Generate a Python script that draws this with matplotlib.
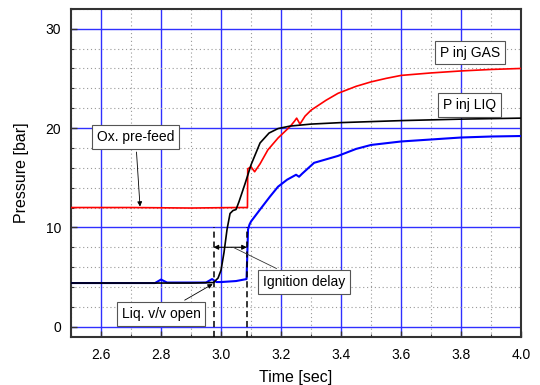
import matplotlib
matplotlib.use("Agg")
import matplotlib.pyplot as plt
from matplotlib.ticker import MultipleLocator

plt.rcParams["font.family"] = ["Liberation Sans", "DejaVu Sans"]

# P inj GAS (red)
t_gas = [2.5, 2.7, 2.9, 3.05, 3.088, 3.089, 3.10, 3.112, 3.13, 3.156, 3.19, 3.23,
         3.245, 3.252, 3.263, 3.28, 3.30, 3.35, 3.39, 3.45, 3.5, 3.55, 3.6, 3.7,
         3.8, 3.9, 4.0]
p_gas = [12.0, 12.0, 11.95, 12.0, 12.0, 15.9, 16.1, 15.6, 16.4, 17.8, 19.0, 20.15,
         20.7, 21.0, 20.4, 21.2, 21.8, 22.8, 23.5, 24.2, 24.65, 25.0, 25.3, 25.55,
         25.75, 25.9, 26.0]

# P inj LIQ (black)
t_liq = [2.5, 2.9, 2.975, 2.99, 3.0, 3.01, 3.02, 3.03, 3.04, 3.05, 3.06, 3.08,
         3.10, 3.13, 3.16, 3.19, 3.23, 3.3, 3.4, 3.6, 3.8, 4.0]
p_liq = [4.4, 4.4, 4.45, 4.9, 5.7, 7.5, 9.8, 11.4, 11.7, 11.8, 12.6, 14.4,
         16.3, 18.5, 19.5, 19.95, 20.2, 20.4, 20.55, 20.75, 20.9, 21.0]

# chamber-side pressure (blue)
t_ch = [2.5, 2.78, 2.8, 2.82, 2.95, 2.97, 2.985, 3.0, 3.05, 3.085, 3.09, 3.095,
        3.10, 3.13, 3.163, 3.19, 3.22, 3.25, 3.26, 3.27, 3.31, 3.39, 3.45, 3.5,
        3.6, 3.7, 3.8, 3.9, 4.0]
p_ch = [4.4, 4.4, 4.75, 4.45, 4.45, 4.8, 4.5, 4.5, 4.6, 4.8, 9.8, 10.3,
        10.6, 11.8, 13.1, 14.1, 14.8, 15.3, 15.1, 15.4, 16.5, 17.2, 17.9, 18.3,
        18.65, 18.85, 19.05, 19.15, 19.2]

valve_open_t = 2.975
ignition_t = 3.086

fig = plt.figure(figsize=(5.4, 3.85), dpi=100)
ax = fig.add_axes([0.1315, 0.1255, 0.8335, 0.8515])

ax.plot(t_gas, p_gas, color="#ff0000", lw=1.2, zorder=4)
ax.plot(t_liq, p_liq, color="black", lw=1.2, zorder=5)
ax.plot(t_ch, p_ch, color="#0000ff", lw=1.5, zorder=3)

ax.set_xlim(2.5, 4.0)
ax.set_ylim(-1, 32)
ax.xaxis.set_major_locator(MultipleLocator(0.2))
ax.xaxis.set_minor_locator(MultipleLocator(0.1))
ax.yaxis.set_major_locator(MultipleLocator(10))
ax.yaxis.set_minor_locator(MultipleLocator(2))
ax.grid(which="major", color="#3030ff", lw=1.0, ls="-", zorder=1)
ax.grid(which="minor", color="#999999", lw=0.8, ls=(0, (1, 2.5)), zorder=1)
ax.set_axisbelow(True)
ax.tick_params(which="both", direction="in", top=False, right=False,
               labelsize=10, color="#333333")
ax.tick_params(which="major", length=4, width=1)
ax.tick_params(which="minor", length=2.5, width=0.8)
ax.tick_params(axis="y", pad=7)
ax.tick_params(axis="x", pad=8)
ax.xaxis.set_major_formatter(plt.FuncFormatter(lambda v, p: f"{v:.1f}"))
for s in ax.spines.values():
    s.set_color("#333333")
    s.set_linewidth(1.5)

ax.set_xlabel("Time [sec]", fontsize=11.5, labelpad=6)
ax.set_ylabel("Pressure [bar]", fontsize=11.5, labelpad=12)

# dashed markers + ignition delay arrow
for t in (valve_open_t, ignition_t):
    ax.plot([t, t], [-1, 10], color="black", ls=(0, (4, 2.5)), lw=1.1, zorder=6)
ax.annotate("", xy=(valve_open_t, 8), xytext=(ignition_t, 8),
            arrowprops=dict(arrowstyle="<|-|>", color="black", lw=0.8,
                            mutation_scale=7, shrinkA=0, shrinkB=0), zorder=6)

box = dict(boxstyle="square,pad=0.35", fc="white", ec="#555555", lw=0.8)
ax.annotate("Ox. pre-feed", xy=(2.73, 12.1), xytext=(2.715, 19.1),
            ha="center", va="center", fontsize=10, bbox=box, zorder=7,
            arrowprops=dict(arrowstyle="-|>", color="black", lw=0.6,
                            mutation_scale=7, shrinkB=0))
ax.annotate("Liq. v/v open", xy=(2.972, 4.3), xytext=(2.80, 1.3),
            ha="center", va="center", fontsize=10, bbox=box, zorder=7,
            arrowprops=dict(arrowstyle="-|>", color="black", lw=0.6,
                            mutation_scale=7, shrinkB=0))
ax.annotate("Ignition delay", xy=(3.04, 8.0), xytext=(3.277, 4.5),
            ha="center", va="center", fontsize=10, bbox=box, zorder=7,
            arrowprops=dict(arrowstyle="-", color="#333333", lw=0.6, shrinkB=0))
ax.text(3.83, 27.6, "P inj GAS", ha="center", va="center", fontsize=10,
        bbox=box, zorder=7)
ax.text(3.827, 22.3, "P inj LIQ", ha="center", va="center", fontsize=10,
        bbox=box, zorder=7)

fig.savefig("out.png", dpi=100)
